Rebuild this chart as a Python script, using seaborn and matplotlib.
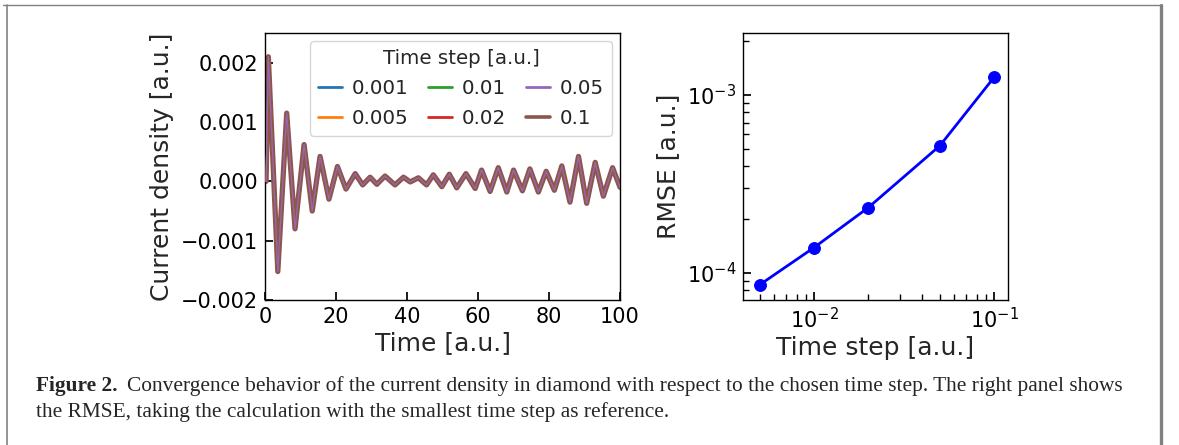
#!/usr/bin/env python3

# Convergence of the current density with respect to the time step.

import matplotlib
matplotlib.use("Agg")
import matplotlib.pyplot as plt
from matplotlib.lines import Line2D
import pandas
import seaborn as sns

sns.set_theme(style="ticks")
plt.rcParams["font.family"] = ["DejaVu Sans"]
plt.rcParams["axes.edgecolor"] = "black"
plt.rcParams["axes.linewidth"] = 1.0
plt.rcParams["xtick.color"] = "black"
plt.rcParams["ytick.color"] = "black"

# Time axis and current density (all time steps overlap)
time_au = [0, 0.3, 0.93, 3.6, 6.1, 8.45, 11.0, 13.3, 15.5, 18.0,
           20.4, 22.8, 25.4, 27.5, 29.6, 31.5, 33.8, 36.6, 39.0, 40.9,
           43.2, 45.5, 47.4, 49.8, 51.9, 54.0, 56.6, 59.2, 61.0, 63.4,
           65.7, 68.1, 70.0, 72.5, 74.6, 77.0, 79.2, 81.5, 83.6, 85.9,
           88.3, 90.6, 93.0, 95.3, 97.9, 100]
current = [0.0, 0.0, 2.1e-3, -1.52e-3, 1.15e-3, -0.80e-3, 0.62e-3, -0.50e-3, 0.42e-3, -0.30e-3,
           0.25e-3, -0.13e-3, 0.13e-3, -0.06e-3, 0.07e-3, -0.05e-3, 0.09e-3, -0.06e-3, 0.07e-3, -0.01e-3,
           0.06e-3, -0.06e-3, 0.11e-3, -0.09e-3, 0.12e-3, -0.11e-3, 0.13e-3, -0.12e-3, 0.19e-3, -0.17e-3,
           0.23e-3, -0.18e-3, 0.19e-3, -0.16e-3, 0.21e-3, -0.18e-3, 0.17e-3, -0.15e-3, 0.26e-3, -0.35e-3,
           0.42e-3, -0.37e-3, 0.32e-3, -0.25e-3, 0.23e-3, -0.10e-3]

step_labels = ["0.001", "0.005", "0.01", "0.02", "0.05", "0.1"]
step_colors = ["#1f77b4", "#ff7f0e", "#2ca02c", "#d62728", "#9467bd", "#8c564b"]

# Right panel: RMSE against the smallest time step
time_steps = [0.005, 0.01, 0.02, 0.05, 0.1]
rmse = [8.6e-5, 1.39e-4, 2.33e-4, 5.19e-4, 1.257e-3]

caption_bold = "Figure 2."
caption_1 = ("Convergence behavior of the current density in diamond with respect to the "
             "chosen time step. The right panel shows")
caption_2 = "the RMSE, taking the calculation with the smallest time step as reference."

fig = plt.figure(figsize=(11.79, 4.45), dpi=100)
ax1 = fig.add_axes([0.2248, 0.3258, 0.3011, 0.6])
ax2 = fig.add_axes([0.6302, 0.3258, 0.2248, 0.6])

df = pandas.DataFrame({"time": time_au, "current": current})
for i, (label, color) in enumerate(zip(step_labels, step_colors)):
    # the coarsest step is drawn widest, underneath the others
    coarse = label == "0.1"
    sns.lineplot(data=df, x="time", y="current", ax=ax1, color=color, label=label,
                 linewidth=3.8 if coarse else 0.9, zorder=1 if coarse else 2 + i)

ax1.set_xlim(0, 100)
ax1.set_ylim(-0.002, 0.0025)
ax1.set_yticks([-0.002, -0.001, 0.0, 0.001, 0.002])
ax1.set_yticklabels(["\u22120.002", "\u22120.001", "0.000", "0.001", "0.002"])
ax1.set_xticks([0, 20, 40, 60, 80, 100])
ax1.tick_params(direction="in", labelsize=15, pad=5)
ax1.set_xlabel("Time [a.u.]", fontsize=18, labelpad=3)
ax1.set_ylabel("Current density [a.u.]", fontsize=18, labelpad=5)
leg = ax1.legend(title="Time step [a.u.]", ncol=3, loc="upper right", fontsize=14.3,
                 title_fontsize=14.3, handlelength=1.2, handletextpad=0.5,
                 columnspacing=1.0, labelspacing=0.55, borderaxespad=0.4,
                 framealpha=0.8)
for line in leg.get_lines():
    line.set_linewidth(2.0)
leg.get_lines()[-1].set_linewidth(2.6)

sns.lineplot(x=time_steps, y=rmse, ax=ax2, color="blue", marker="o", markersize=8.5,
             markeredgecolor="blue", linewidth=2.0)
ax2.set_xscale("log")
ax2.set_yscale("log")
ax2.set_xlim(0.00403, 0.1196)
ax2.set_ylim(7.05e-5, 2.23e-3)
ax2.tick_params(which="both", direction="in", labelsize=15, pad=5)
ax2.set_xlabel("Time step [a.u.]", fontsize=18, labelpad=3)
ax2.set_ylabel("RMSE [a.u.]", fontsize=18, labelpad=5)

# page frame around the figure
grey = "#808080"
fig.add_artist(Line2D([3 / 1179, 1161 / 1179], [1 - 4.5 / 445, 1 - 4.5 / 445],
                      transform=fig.transFigure, color=grey, linewidth=1.0))
fig.add_artist(Line2D([7 / 1179, 7 / 1179], [0, 1 - 4.5 / 445],
                      transform=fig.transFigure, color=grey, linewidth=1.2))
fig.add_artist(Line2D([1160.5 / 1179, 1160.5 / 1179], [0, 1 - 4.5 / 445],
                      transform=fig.transFigure, color=grey, linewidth=2.4))

# caption
t1 = fig.text(36 / 1179, 1 - 386 / 445, caption_bold, fontsize=15.4, fontweight="bold",
              family=["Liberation Serif"], va="center", ha="left")
ax1.annotate(caption_1, xy=(1, 0.5), xycoords=t1, xytext=(7, 0), textcoords="offset points",
             fontsize=15.4, family=["Liberation Serif"], va="center", ha="left",
             annotation_clip=False)
fig.text(36 / 1179, 1 - 412 / 445, caption_2, fontsize=15.4, family=["Liberation Serif"],
         va="center", ha="left")

plt.savefig("out.png", dpi=100)
